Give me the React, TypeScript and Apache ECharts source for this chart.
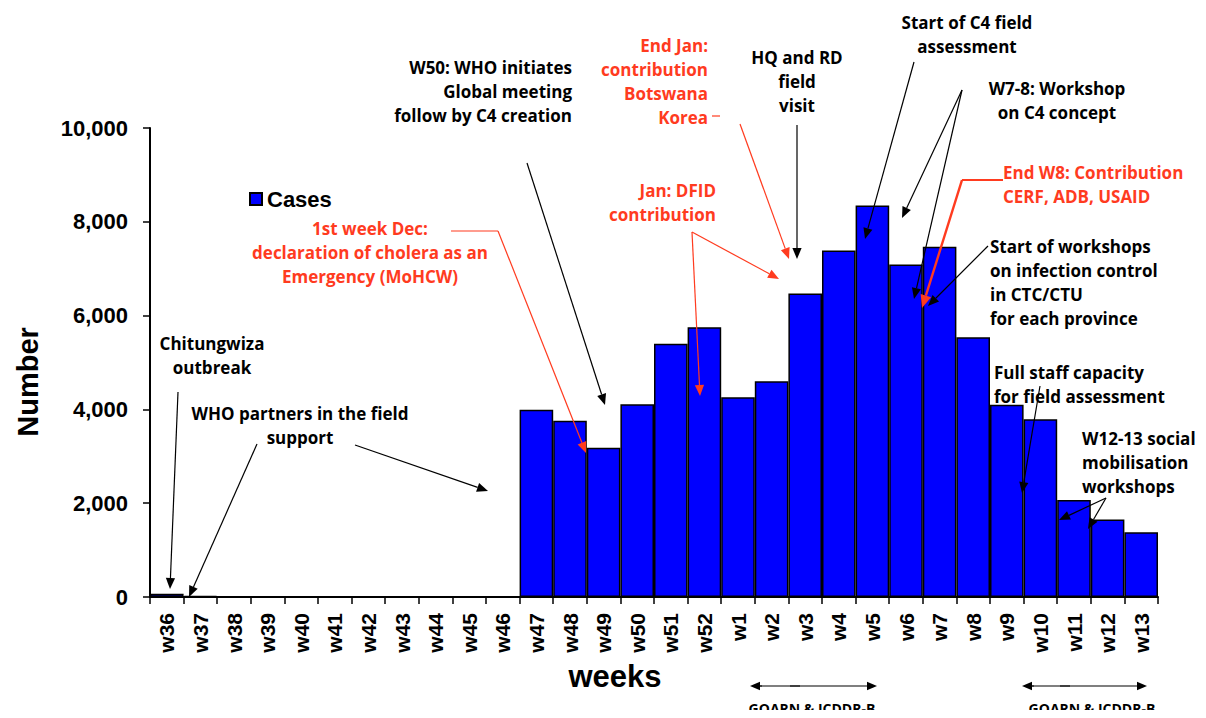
import React, { useEffect, useRef } from "react";
import * as echarts from "echarts";

const weeks = [
  "w36", "w37", "w38", "w39", "w40", "w41", "w42", "w43", "w44", "w45", "w46",
  "w47", "w48", "w49", "w50", "w51", "w52",
  "w1", "w2", "w3", "w4", "w5", "w6", "w7", "w8", "w9", "w10", "w11", "w12", "w13",
];
const cases = [
  70, 25, 0, 0, 0, 0, 0, 0, 0, 0, 0,
  3990, 3760, 3180, 4110, 5400, 5750,
  4260, 4600, 6470, 7390, 8350, 7090, 7470, 5540, 4100, 3790, 2070, 1650, 1380,
];
const yTicks = { min: 0, max: 10000, interval: 2000 };

const RED = "#ff3b1f";
const FONT = "'Open Sans', 'Noto Sans', sans-serif";
const ARIAL = "'Liberation Sans', Arial, sans-serif";
const Z = 100;

function arrow(x1: number, y1: number, x2: number, y2: number, color = "#000", width = 1.2, head = 11) {
  const dx = x2 - x1, dy = y2 - y1;
  const len = Math.sqrt(dx * dx + dy * dy);
  const ux = dx / len, uy = dy / len;
  const bx = x2 - ux * head, by = y2 - uy * head;
  const hw = head * 0.42;
  return [
    { type: "line", z: Z, shape: { x1, y1, x2: bx, y2: by }, style: { stroke: color, lineWidth: width } },
    {
      type: "polygon",
      z: Z,
      shape: { points: [[x2, y2], [bx - uy * hw, by + ux * hw], [bx + uy * hw, by - ux * hw]] },
      style: { fill: color },
    },
  ];
}

function seg(points: number[][], color = "#000", width = 1.2) {
  return { type: "polyline", z: Z, shape: { points }, style: { stroke: color, lineWidth: width, fill: null } };
}

function txt(x: number, y: number, text: string, color = "#000", align = "center", size = 17, lh = 24) {
  return {
    type: "text",
    z: Z,
    x,
    y,
    style: {
      text,
      fill: color,
      font: `bold ${size}px ${FONT}`,
      align,
      verticalAlign: "top",
      lineHeight: lh,
    },
  };
}

export default function App() {
  const ref = useRef<HTMLDivElement>(null);
  useEffect(() => {
    if (!ref.current) return;
    const chart = echarts.init(ref.current, null, { renderer: "svg" });
    const graphic: any[] = [
      // annotations
      txt(212, 331, "Chitungwiza\noutbreak"),
      ...arrow(178, 392, 170, 589),
      txt(300, 401, "WHO partners in the field\nsupport"),
      ...arrow(257, 444, 189, 597),
      ...arrow(355, 445, 488, 491),
      txt(370, 216, "1st week Dec:\ndeclaration of cholera as an\nEmergency (MoHCW)", RED),
      seg([[451, 231], [498, 231]], RED),
      ...arrow(498, 231, 586, 453, RED),
      txt(572, 55, "W50: WHO initiates\nGlobal meeting\nfollow by C4 creation", "#000", "right"),
      ...arrow(527, 163, 605, 405),
      txt(708, 33, "End Jan:\ncontribution\nBotswana\nKorea", RED, "right"),
      seg([[712, 116], [720, 116]], RED),
      ...arrow(740, 124, 789, 259, RED),
      txt(797, 45, "HQ and RD\nfield\nvisit"),
      ...arrow(797, 125, 797, 259),
      txt(716, 178, "Jan: DFID\ncontribution", RED, "right"),
      ...arrow(692, 232, 700, 396, RED),
      ...arrow(692, 232, 779, 279, RED),
      txt(967, 10, "Start of C4 field\nassessment"),
      ...arrow(914, 62, 865, 239),
      txt(1057, 76, "W7-8: Workshop\non C4 concept"),
      ...arrow(962, 90, 902, 218),
      ...arrow(962, 90, 914, 299),
      txt(1003, 160, "End W8: Contribution\nCERF, ADB, USAID", RED, "left"),
      seg([[1003, 180], [962, 180]], RED, 2),
      ...arrow(962, 180, 922, 308, RED, 2.4, 13),
      txt(990, 234, "Start of workshops\non infection control\nin CTC/CTU\nfor each province", "#000", "left"),
      ...arrow(988, 246, 928, 306),
      txt(994, 360, "Full staff capacity\nfor field assessment", "#000", "left"),
      ...arrow(1040, 386, 1022, 493),
      txt(1082, 426, "W12-13 social\nmobilisation\nworkshops", "#000", "left"),
      ...arrow(1106, 498, 1059, 520),
      ...arrow(1106, 498, 1088, 529),
      // axis titles
      {
        type: "text",
        z: Z,
        x: 615,
        y: 676,
        style: { text: "weeks", fill: "#000", font: `bold 31px ${ARIAL}`, align: "center", verticalAlign: "middle" },
      },
      {
        type: "text",
        z: Z,
        x: 28,
        y: 382,
        rotation: Math.PI / 2,
        style: { text: "Number", fill: "#000", font: `bold 29px ${ARIAL}`, align: "center", verticalAlign: "middle" },
      },
      // GOARN arrows
      ...arrow(762, 686, 750, 686, "#000", 1.2, 10),
      ...arrow(790, 686, 877, 686, "#000", 1.2, 10),
      seg([[760, 686], [800, 686]]),
      {
        type: "text", z: Z, x: 812, y: 708,
        style: { text: "GOARN & ICDDR-B", fill: "#000", font: `bold 14px ${FONT}`, align: "center", verticalAlign: "middle" },
      },
      ...arrow(1034, 686, 1022, 686, "#000", 1.2, 10),
      ...arrow(1060, 686, 1147, 686, "#000", 1.2, 10),
      seg([[1032, 686], [1070, 686]]),
      {
        type: "text", z: Z, x: 1092, y: 708,
        style: { text: "GOARN & ICDDR-B", fill: "#000", font: `bold 14px ${FONT}`, align: "center", verticalAlign: "middle" },
      },
    ];

    chart.setOption({
      animation: false,
      backgroundColor: "#fff",
      grid: { left: 150, right: 48, top: 128, bottom: 121, containLabel: false, outerBoundsMode: "none" },
      legend: {
        data: ["Cases"],
        left: 244,
        top: 183,
        icon: "rect",
        itemWidth: 12,
        itemHeight: 12,
        itemGap: 6,
        textStyle: { fontFamily: ARIAL, fontWeight: "bold", fontSize: 22, color: "#000" },
      },
      xAxis: {
        type: "category",
        data: weeks,
        boundaryGap: true,
        axisLine: { lineStyle: { color: "#000", width: 2 } },
        axisTick: { show: true, length: 7, lineStyle: { color: "#000", width: 1.5 }, alignWithLabel: false },
        axisLabel: {
          rotate: 90,
          interval: 0,
          margin: 16,
          color: "#000",
          fontFamily: ARIAL,
          fontWeight: "bold",
          fontSize: 21,
        },
      },
      yAxis: {
        type: "value",
        min: yTicks.min,
        max: yTicks.max,
        interval: yTicks.interval,
        splitLine: { show: false },
        axisLine: { show: true, lineStyle: { color: "#000", width: 2 } },
        axisTick: { show: true, length: 7, lineStyle: { color: "#000", width: 1.5 } },
        axisLabel: {
          margin: 22,
          color: "#000",
          fontFamily: ARIAL,
          fontWeight: "bold",
          fontSize: 22,
          formatter: (v: number) => v.toLocaleString("en-US"),
        },
      },
      series: [
        {
          name: "Cases",
          type: "bar",
          data: cases,
          barCategoryGap: "0%",
          itemStyle: { color: "#0000ff", borderColor: "#000", borderWidth: 1.5 },
        },
      ],
      graphic,
    });
    return () => chart.dispose();
  }, []);
  return <div ref={ref} style={{ width: 1206, height: 718, margin: -8 }} />;
}
